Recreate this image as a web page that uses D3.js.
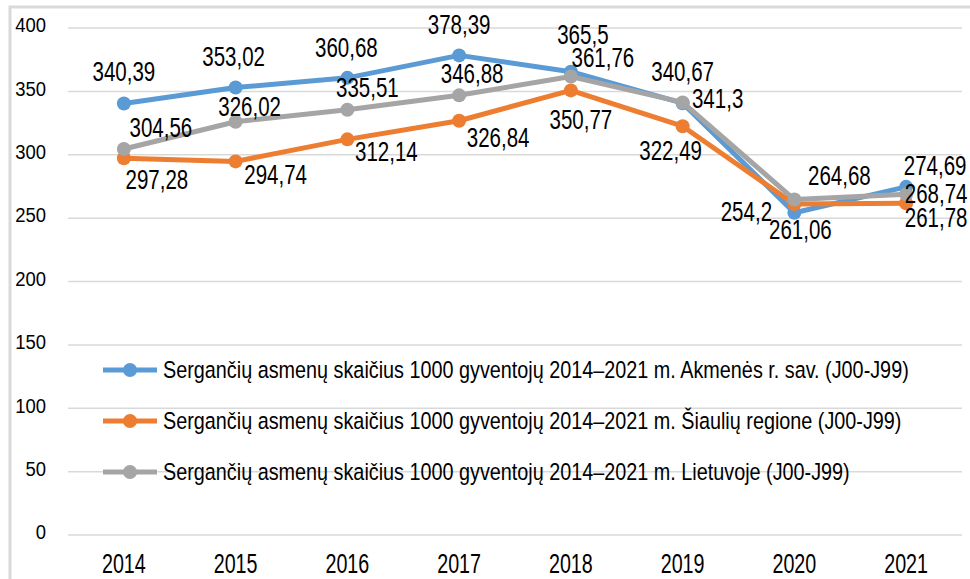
<html>
<head>
<script src="https://d3js.org/d3.v7.min.js"></script>
<style>
    body { margin: 0; background: #fff; }
    svg { display: block; font-family: "Liberation Sans", Arial, sans-serif; }
</style>
</head>
<body>
<svg id="chart" width="970" height="579"></svg>
<script>
// data
const years = ["2014", "2015", "2016", "2017", "2018", "2019", "2020", "2021"];
const akmenes = [340.39, 353.02, 360.68, 378.39, 365.5, 340.67, 254.2, 274.69];
const siauliai = [297.28, 294.74, 312.14, 326.84, 350.77, 322.49, 261.06, 261.78];
const lietuva = [304.56, 326.02, 335.51, 346.88, 361.76, 341.3, 264.68, 268.74];
const seriesNames = [
    "Sergančių asmenų skaičius 1000 gyventojų 2014–2021 m. Akmenės r. sav. (J00-J99)",
    "Sergančių asmenų skaičius 1000 gyventojų 2014–2021 m. Šiaulių regione (J00-J99)",
    "Sergančių asmenų skaičius 1000 gyventojų 2014–2021 m. Lietuvoje (J00-J99)"
];
const yTicks = [0, 50, 100, 150, 200, 250, 300, 350, 400];

const colors = ["#5b9bd5", "#ed7d31", "#a5a5a5"];
// where each value label sits relative to its point (layout only)
const labelOffsets = [
    [[0, -32], [-2, -31], [-1, -30], [0, -31], [12, -37], [0, -32], [-48, -1], [29, -21]],
    [[33, 21], [40, 13], [39, 12], [39, 17], [10, 29], [-12, 24], [6, 25], [30, 14]],
    [[37, -21], [14, -15], [20, -22], [13, -22], [32, -19], [35, -4], [45, -24], [30, -1]]
];

const series = [akmenes, siauliai, lietuva].map((vals, i) => ({
    name: seriesNames[i],
    color: colors[i],
    offsets: labelOffsets[i],
    points: vals.map((v, j) => ({ year: years[j], value: v, j: j }))
}));

const svg = d3.select("#chart");

// outer chart frame
svg.append("rect")
    .attr("x", 10).attr("y", 7)
    .attr("width", 975).attr("height", 590)
    .attr("fill", "none")
    .attr("stroke", "#d9d9d9")
    .attr("stroke-width", 3);

const x = d3.scalePoint().domain(years).range([68, 962]).padding(0.5);
const y = d3.scaleLinear().domain([0, 400]).range([535, 28]);

// gridlines
svg.append("g")
    .selectAll("line")
    .data(yTicks)
    .enter()
    .append("line")
    .attr("x1", 68).attr("x2", 962)
    .attr("y1", d => y(d)).attr("y2", d => y(d))
    .attr("stroke", "#d9d9d9")
    .attr("stroke-width", 1.5);

// the reference uses a narrow font: squeeze Arial horizontally
function narrowText(sel, px, py, size, squeeze) {
    return sel.append("text")
        .attr("transform", d => "translate(" + px(d) + "," + py(d) + ") scale(" + squeeze + ",1)")
        .attr("dy", "0.35em")
        .attr("font-size", size)
        .attr("fill", "#000");
}

// y tick labels
narrowText(svg.append("g").selectAll("text").data(yTicks).enter(), d => 46, d => y(d) - 3, 21, 0.88)
    .attr("text-anchor", "end")
    .text(d => d);

// x tick labels
narrowText(svg.append("g").selectAll("text").data(years).enter(), d => x(d), d => 563.5, 27, 0.73)
    .attr("text-anchor", "middle")
    .text(d => d);

const line = d3.line()
    .x(d => x(d.year))
    .y(d => y(d.value));

const groups = svg.append("g")
    .selectAll("g")
    .data(series)
    .enter()
    .append("g");

groups.append("path")
    .attr("d", d => line(d.points))
    .attr("fill", "none")
    .attr("stroke", d => d.color)
    .attr("stroke-width", 5)
    .attr("stroke-linejoin", "round");

groups.selectAll("circle")
    .data(d => d.points.map(p => ({ ...p, color: d.color })))
    .enter()
    .append("circle")
    .attr("cx", d => x(d.year))
    .attr("cy", d => y(d.value))
    .attr("r", 7)
    .attr("fill", d => d.color);

// value labels
const fmt = v => String(v).replace(".", ",");
series.forEach(s => {
    narrowText(svg.append("g").selectAll("text").data(s.points).enter(),
            d => x(d.year) + s.offsets[d.j][0],
            d => y(d.value) + s.offsets[d.j][1], 27, 0.76)
        .attr("text-anchor", "middle")
        .text(d => fmt(d.value));
});

// legend
const legend = svg.append("g")
    .selectAll("g")
    .data(series)
    .enter()
    .append("g")
    .attr("transform", (d, i) => "translate(103," + (370 + i * 51) + ")");

legend.append("line")
    .attr("x1", 0).attr("x2", 54)
    .attr("stroke", d => d.color)
    .attr("stroke-width", 5);
legend.append("circle")
    .attr("cx", 27)
    .attr("r", 7)
    .attr("fill", d => d.color);
narrowText(legend, d => 60, d => 0, 23.5, 0.843)
    .text(d => d.name);
</script>
</body>
</html>
